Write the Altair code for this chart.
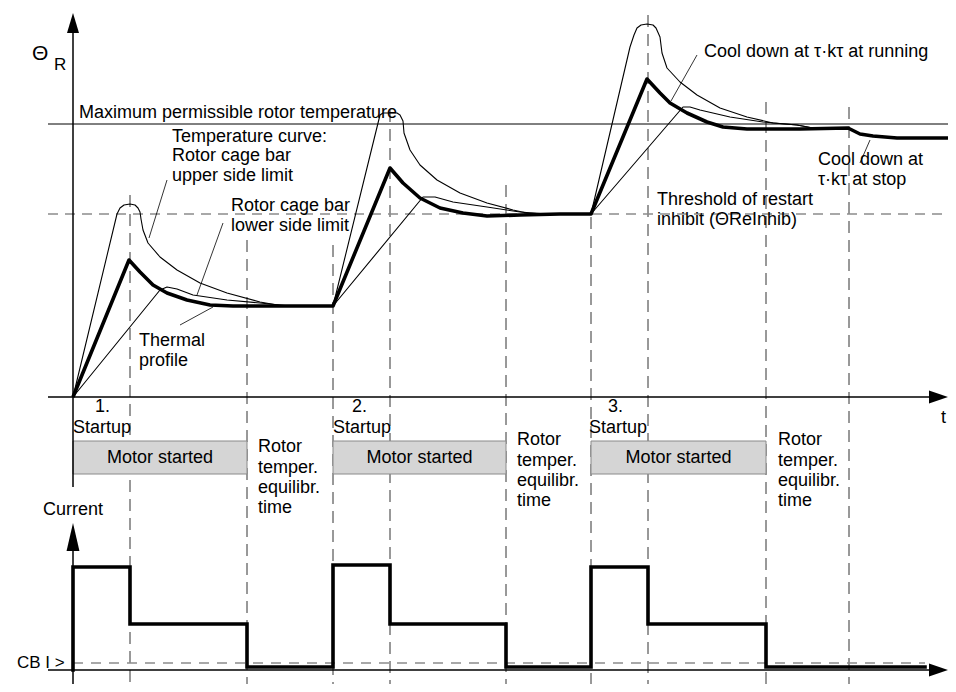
import altair as alt
import pandas as pd

# ---------------- data (time t in diagram units, 0 = 1st startup;
# rotor temperature v in diagram units above the time axis) ----------------
thermal_t = [0, 56, 67, 80, 94, 114, 137, 160, 187, 260,
             317, 330, 347, 367, 390, 414, 447, 487, 518,
             574, 587, 597, 614, 634, 650, 674, 727, 775, 787, 800, 824, 875]
thermal_v = [0, 137, 125, 112, 104, 97, 92, 91, 91, 91,
             229, 214, 199, 189, 184, 181, 182, 183, 183,
             318, 304, 294, 284, 275, 270, 268, 268, 269, 263, 261, 259, 259]

upper_t = [0, 44, 47, 51, 57, 62, 65, 67, 68, 70,
           75, 87, 104, 127, 154, 187, 210, 260,
           307, 310, 314, 324, 327, 330, 331, 337, 347, 364,
           387, 414, 440, 454, 474, 518,
           557, 561, 564, 568, 574, 580, 583, 587, 589, 594,
           607, 624, 647, 674, 700, 724, 740]
upper_v = [0, 183, 189, 192, 193, 192, 189, 185, 178, 167,
           154, 140, 127, 114, 104, 95, 91, 91,
           282, 284, 284, 284, 282, 276, 264, 247, 232, 217,
           204, 194, 187, 184, 183, 183,
           350, 362, 369, 372, 373, 372, 369, 360, 344, 329,
           315, 302, 289, 280, 274, 272, 269]

lower_t = [0, 87, 94, 104, 120, 154, 187, 217, 260,
           350, 362, 380, 414, 447, 474, 518,
           610, 617, 627, 657, 690, 724, 740]
lower_v = [0, 107, 110, 108, 102, 97, 94, 91, 91,
           200, 200, 195, 190, 185, 183, 183,
           290, 290, 287, 280, 275, 272, 269]

max_permissible = 273
restart_threshold = 183

event_t = [57, 174, 260, 317, 433, 518, 575, 693, 776]
event_top = [202, 157, 152, 287, 212, 180, 382, 295, 290]

cur_t = [0, 0, 57, 57, 174, 174, 260, 260, 317, 317, 433, 433,
         518, 518, 575, 575, 693, 693, 852]
cur_i = [0, 103, 103, 46, 46, 3, 3, 105, 105, 46, 46, 3,
         3, 103, 103, 46, 46, 3, 3]
cb_level = 7

band_start = [0, 260, 518]
band_end = [174, 433, 693]

leader_from = [(94, 217), (150, 174), (107, 72), (624, 342), (787, 234)]
leader_to = [(76, 159), (124, 102), (140, 90), (598, 296), (797, 257)]

labels_left = [
    ("Maximum permissible rotor temperature", 6, 279, 18),
    ("Temperature curve:", 99, 255, 18),
    ("Rotor cage bar", 99, 236, 18),
    ("upper side limit", 99, 216, 18),
    ("Rotor cage bar", 158, 186, 18),
    ("lower side limit", 158, 166, 18),
    ("Thermal", 66, 51, 18),
    ("profile", 66, 31, 18),
    ("Cool down at \u03c4\u00b7k\u03c4 at running", 631, 340, 18),
    ("Cool down at", 745, 232, 18),
    ("\u03c4\u00b7k\u03c4 at stop", 745, 212, 18),
    ("Threshold of restart", 584, 192, 18),
    ("inhibit (\u0398ReInhib)", 584, 172, 18),
    ("\u0398", -41, 337, 21),
    ("R", -19, 327, 17),
    ("1.", 22, -15, 18), ("Startup", 0, -36, 18),
    ("2.", 279, -15, 18), ("Startup", 260, -36, 18),
    ("3.", 535, -15, 18), ("Startup", 516, -36, 18),
    ("Rotor", 185, -55, 18), ("temper.", 185, -76, 18),
    ("equilibr.", 185, -96, 18), ("time", 185, -116, 18),
    ("Rotor", 444, -48, 18), ("temper.", 444, -69, 18),
    ("equilibr.", 444, -89, 18), ("time", 444, -109, 18),
    ("Rotor", 705, -48, 18), ("temper.", 705, -69, 18),
    ("equilibr.", 705, -89, 18), ("time", 705, -109, 18),
    ("Current", -30, -118, 18),
    ("CB I >", -56, -271, 17),
    ("t", 868, -26, 18),
]

# ---------------- layout ----------------
T_MIN, T_MAX = -65, 875
V_MIN, V_MAX = -287, 389
CUR_BASE = -273
BAND_TOP, BAND_BOT = -44, -77
FONT = "Liberation Sans"

xs = alt.Scale(domain=[T_MIN, T_MAX], nice=False, zero=False)
ys = alt.Scale(domain=[V_MIN, V_MAX], nice=False, zero=False)


def X(f="t"):
    return alt.X(f"{f}:Q", scale=xs, axis=None)


def Y(f="v"):
    return alt.Y(f"{f}:Q", scale=ys, axis=None)


def line_df(t, v, name):
    return pd.DataFrame({"t": t, "v": v, "s": name, "o": list(range(len(t)))})


# vertical dashed event lines
ev_df = pd.DataFrame({"t": event_t, "v": event_top, "v2": [V_MIN] * len(event_t)})
ev = alt.Chart(ev_df).mark_rule(color="#333333", strokeWidth=1, strokeDash=[12, 7]).encode(
    x=X(), y=Y(), y2="v2:Q")

# horizontal reference lines
thr = alt.Chart(pd.DataFrame({"t": [-25], "t2": [T_MAX], "v": [restart_threshold]})).mark_rule(
    color="#8c8c8c", strokeWidth=1.3, strokeDash=[10, 7]).encode(x=X(), x2="t2:Q", y=Y())
mx = alt.Chart(pd.DataFrame({"t": [-25], "t2": [T_MAX], "v": [max_permissible]})).mark_rule(
    color="#000000", strokeWidth=1).encode(x=X(), x2="t2:Q", y=Y())

# curves
thin_df = pd.concat([line_df(upper_t, upper_v, "upper"), line_df(lower_t, lower_v, "lower")])
thin = alt.Chart(thin_df).mark_line(color="#000000", strokeWidth=1.1, strokeJoin="round").encode(
    x=X(), y=Y(), detail="s:N", order="o:Q")
thick = alt.Chart(line_df(thermal_t, thermal_v, "thermal")).mark_line(
    color="#000000", strokeWidth=3.6, strokeJoin="round").encode(x=X(), y=Y(), order="o:Q")

# leader lines
ld_rows = []
for k, (a, b) in enumerate(zip(leader_from, leader_to)):
    ld_rows.append({"t": a[0], "v": a[1], "s": k, "o": 0})
    ld_rows.append({"t": b[0], "v": b[1], "s": k, "o": 1})
leaders = alt.Chart(pd.DataFrame(ld_rows)).mark_line(color="#000000", strokeWidth=0.8).encode(
    x=X(), y=Y(), detail="s:N", order="o:Q")

# "Motor started" bands
band_df = pd.DataFrame({"t": band_start, "t2": band_end,
                        "v": [BAND_TOP] * 3, "v2": [BAND_BOT] * 3,
                        "c": [(a + b) / 2 for a, b in zip(band_start, band_end)],
                        "label": ["Motor started"] * 3})
bands = alt.Chart(band_df).mark_rect(fill="#d5d5d5", stroke="#8a8a8a", strokeWidth=1).encode(
    x=X(), x2="t2:Q", y=Y(), y2="v2:Q")
band_txt = alt.Chart(band_df).mark_text(font=FONT, fontSize=18, align="center",
                                        baseline="alphabetic", color="#000000").encode(
    x=X("c"), y=alt.Y("vt:Q", scale=ys, axis=None), text="label:N").transform_calculate(vt="-66")

# axes
ax_df = pd.DataFrame([
    {"t": 0, "t2": 0, "v": -90, "v2": 370},          # temperature axis
    {"t": -25, "t2": 862, "v": 0, "v2": 0},          # time axis
    {"t": 0, "t2": 0, "v": V_MIN, "v2": -140},       # current axis
    {"t": -25, "t2": 862, "v": CUR_BASE, "v2": CUR_BASE},  # current time axis
])
axes = alt.Chart(ax_df).mark_rule(color="#000000", strokeWidth=1.5).encode(
    x=X(), x2="t2:Q", y=Y(), y2="v2:Q")

up_a = alt.Chart(pd.DataFrame({"t": [0], "v": [374]})).mark_point(
    shape="M0,-1L0.6,1L-0.6,1Z", size=400, filled=True, color="#000000", opacity=1, strokeWidth=0
).encode(x=X(), y=Y())
up_b = alt.Chart(pd.DataFrame({"t": [0], "v": [-140]})).mark_point(
    shape="M0,-1L0.46,1L-0.46,1Z", size=784, filled=True, color="#000000", opacity=1, strokeWidth=0
).encode(x=X(), y=Y())
right_a = alt.Chart(pd.DataFrame({"t": [865.5, 865.5], "v": [0, CUR_BASE]})).mark_point(
    shape="M1,0L-1,-0.68L-1,0.68Z", size=361, filled=True, color="#000000", opacity=1, strokeWidth=0
).encode(x=X(), y=Y())

# current
cur_df = pd.DataFrame({"t": cur_t, "i": cur_i, "o": list(range(len(cur_t)))})
cur = alt.Chart(cur_df).transform_calculate(v=f"datum.i + ({CUR_BASE})").mark_line(
    color="#000000", strokeWidth=3.6, strokeJoin="miter", strokeCap="square").encode(
    x=X(), y=Y(), order="o:Q")
cb = alt.Chart(pd.DataFrame({"t": [0], "t2": [852], "v": [cb_level + CUR_BASE]})).mark_rule(
    color="#8c8c8c", strokeWidth=1.3, strokeDash=[10, 8]).encode(x=X(), x2="t2:Q", y=Y())

# texts
txt_df = pd.DataFrame(labels_left, columns=["label", "t", "v", "fs"])
texts = alt.Chart(txt_df).mark_text(font=FONT, align="left", baseline="alphabetic",
                                    color="#000000").encode(
    x=X(), y=Y(), text="label:N", size=alt.Size("fs:Q", scale=None))

chart = alt.layer(ev, thr, mx, thin, thick, leaders, bands, band_txt, axes, up_a, up_b,
                  right_a, cb, cur, texts).properties(
    width=940, height=676, padding=0,
    autosize=alt.AutoSizeParams(type="none"), background="#ffffff"
).configure_view(strokeWidth=0)

chart.save("out.html", embed_options={"renderer": "svg", "actions": False})
